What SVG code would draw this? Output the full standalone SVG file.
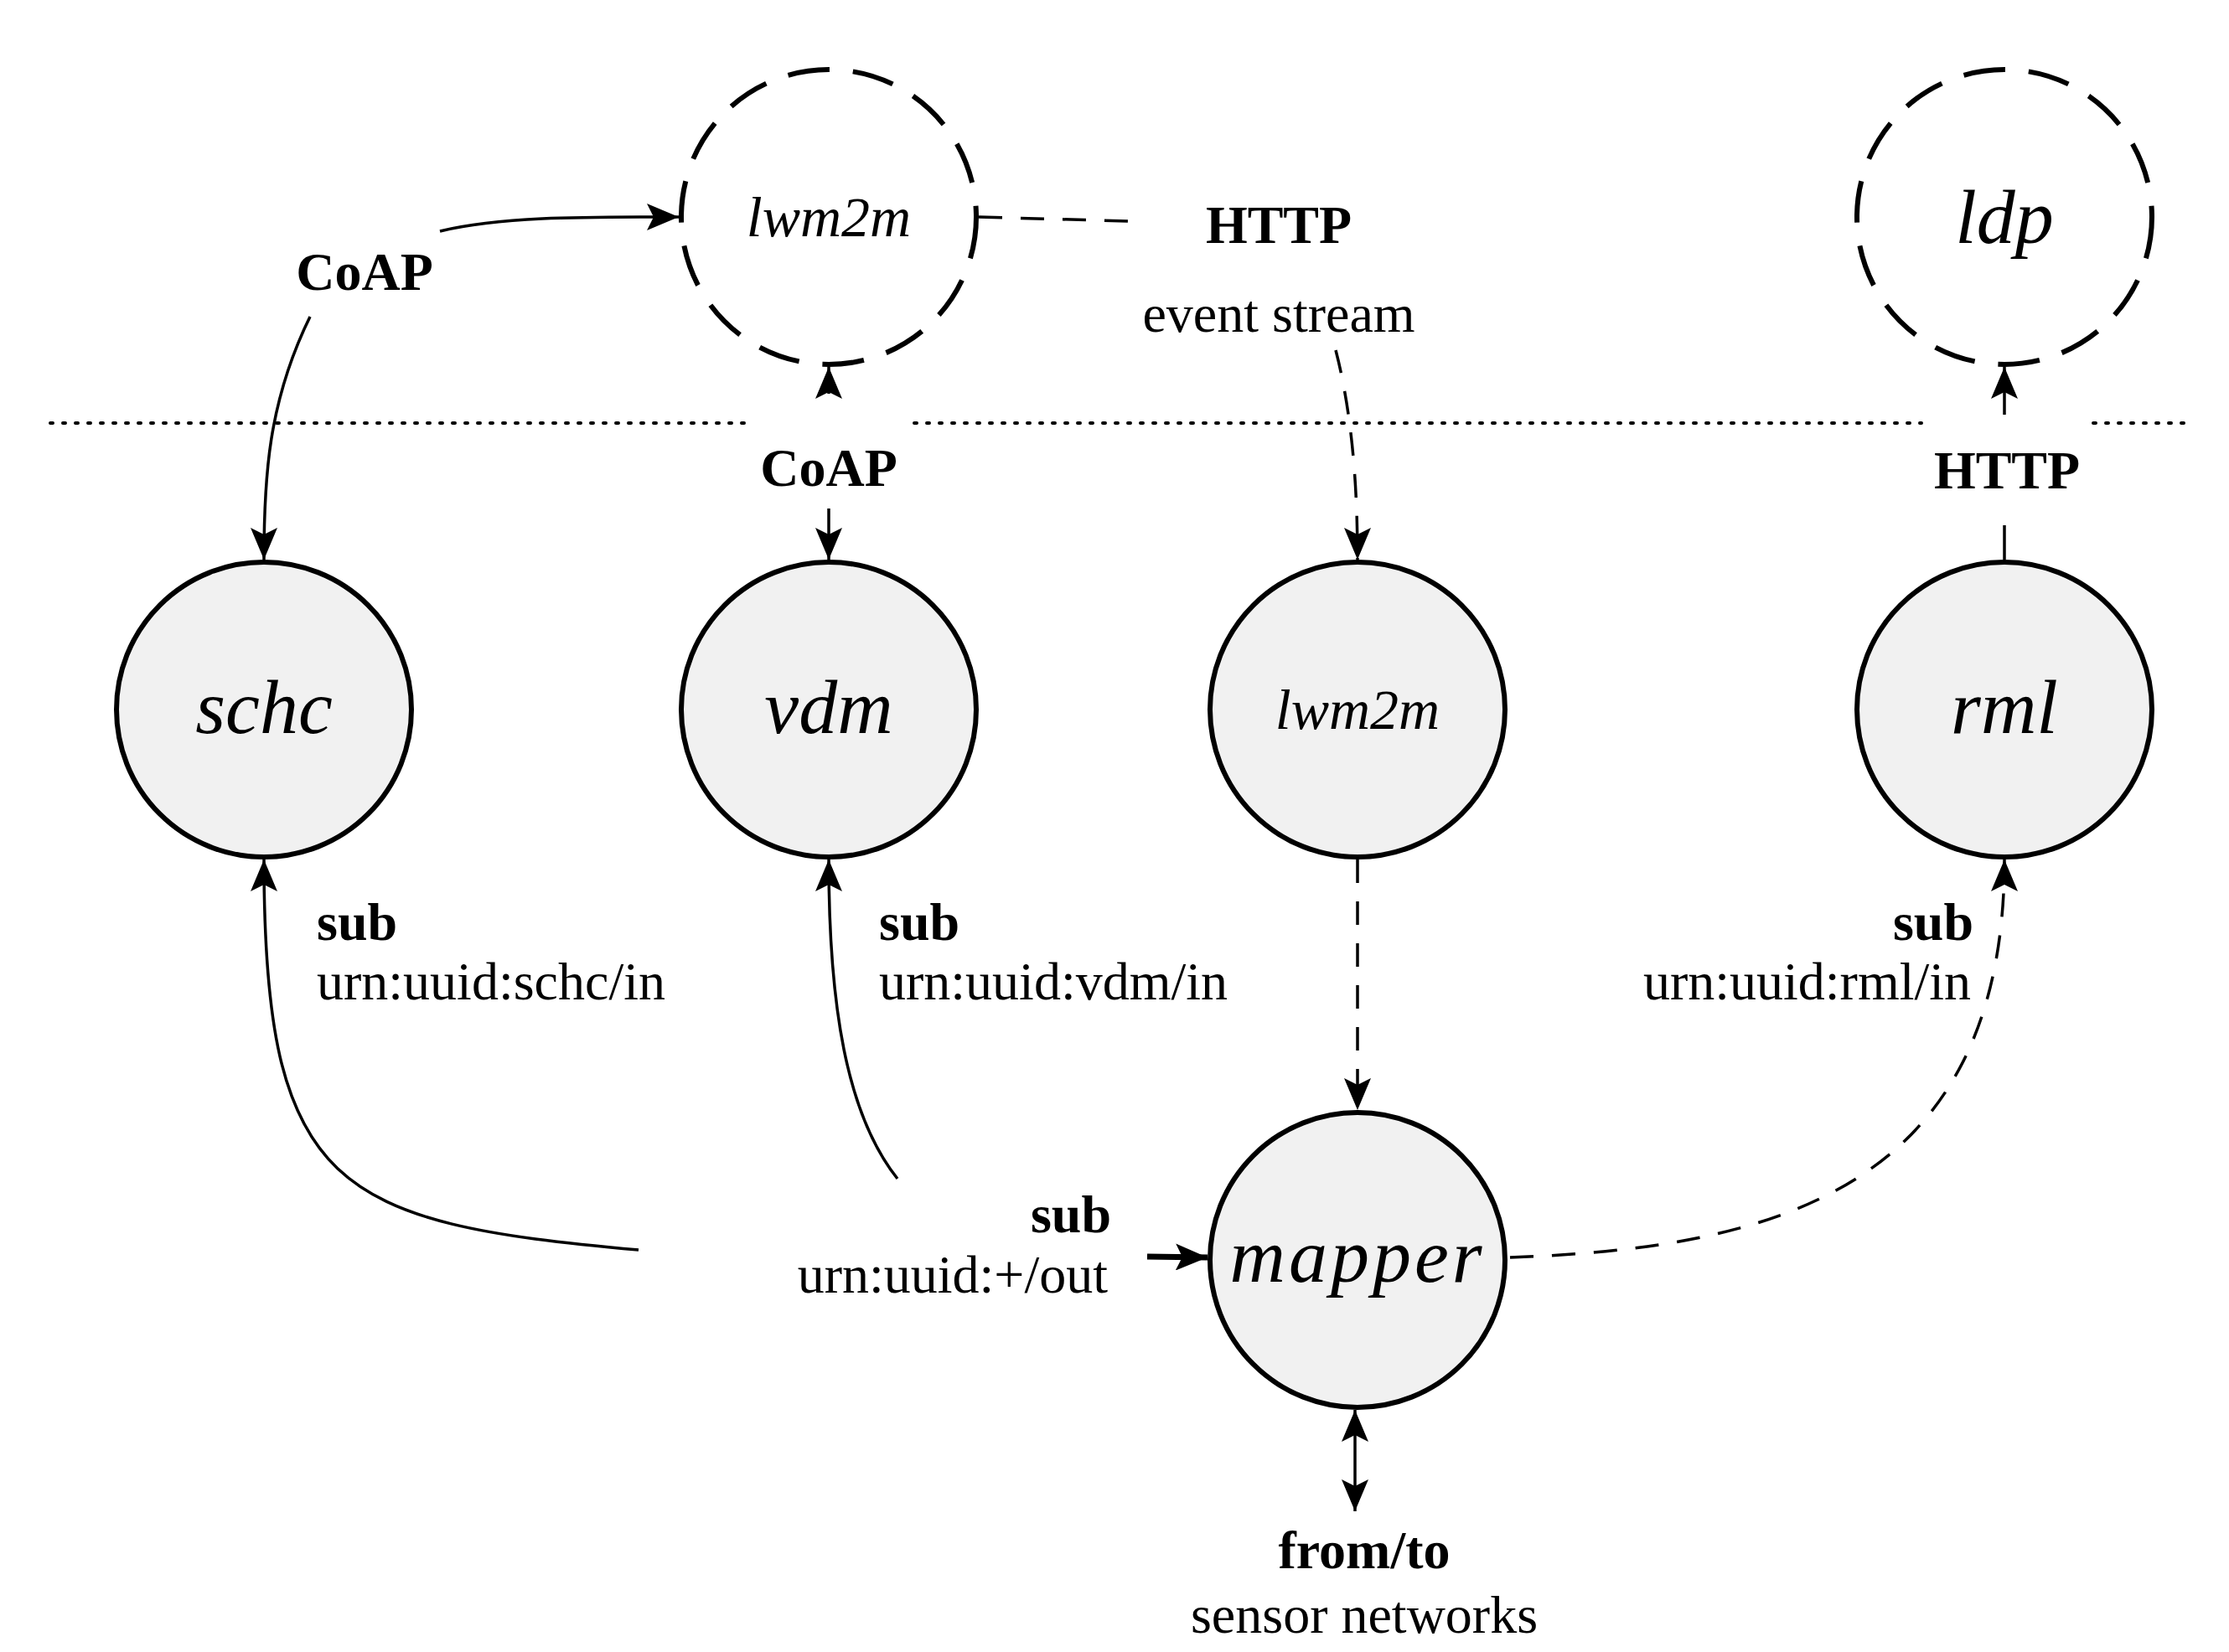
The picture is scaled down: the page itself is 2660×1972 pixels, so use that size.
<svg xmlns="http://www.w3.org/2000/svg" width="2660" height="1972" viewBox="0 0 2660 1972">
<style>
.node{fill:#f1f1f1;stroke:#000;stroke-width:6}
.ext{fill:none;stroke:#000;stroke-width:6;stroke-dasharray:50 28}
.nm{font-family:"Liberation Serif",serif;font-style:italic;font-size:92px;text-anchor:middle}
.sm{font-size:68px}
.lb{font-family:"Liberation Serif",serif;font-size:64px}
.b{font-weight:bold}
.c{stroke:#000;stroke-width:3.5;fill:none}
.d{stroke-dasharray:28 22}
</style>
<defs>
<marker id="a" markerUnits="userSpaceOnUse" markerWidth="40" markerHeight="32" refX="38" refY="16" orient="auto-start-reverse"><path d="M0,0 L38,16 L0,32 L8,16 z" fill="#000"/></marker>
</defs>
<g id="connectors">
<path d="M60,505 H895 M1091,505 H2293 M2498,505 H2609" stroke="#000" stroke-width="4" stroke-dasharray="3 12" stroke-linecap="round" fill="none"/>
<path class="c" d="M525,276 C600,258 700,259 810,259" marker-end="url(#a)"/>
<path class="c" d="M370,378 C320,480 315,570 315,668" marker-end="url(#a)"/>
<path class="c" d="M989,470 L989,438" marker-end="url(#a)"/>
<path class="c" d="M989,607 L989,668" marker-end="url(#a)"/>
<path class="c d" d="M1168,259 L1347,264"/>
<path class="c d" d="M1594,418 C1610,480 1620,560 1620,668" marker-end="url(#a)"/>
<path class="c d" d="M1620,1026 L1620,1325" marker-end="url(#a)"/>
<path class="c d" d="M2392,495 L2392,438" marker-end="url(#a)"/>
<path class="c" d="M2392,627 L2392,668"/>
<path class="c d" d="M1802,1501 C2100,1490 2392,1430 2392,1026" marker-end="url(#a)"/>
<path class="c" d="M762,1492 C400,1460 315,1420 315,1026" marker-end="url(#a)"/>
<path class="c" d="M1071,1407 C1010,1330 989,1200 989,1026" marker-end="url(#a)"/>
<path d="M1369,1500 L1441,1501" stroke="#000" stroke-width="7" fill="none" marker-end="url(#a)"/>
<path class="c" d="M1617,1683 L1617,1804" marker-start="url(#a)" marker-end="url(#a)"/>
</g>
<g id="lwm2m-ext"><circle class="ext" cx="989" cy="259" r="176"/><text class="nm sm" x="989" y="282">lwm2m</text></g>
<g id="ldp"><circle class="ext" cx="2392" cy="259" r="176"/><text class="nm" x="2392" y="290">ldp</text></g>
<g id="schc"><circle class="node" cx="315" cy="847" r="176"/><text class="nm" x="315" y="875">schc</text></g>
<g id="vdm"><circle class="node" cx="989" cy="847" r="176"/><text class="nm" x="989" y="875">vdm</text></g>
<g id="lwm2m"><circle class="node" cx="1620" cy="847" r="176"/><text class="nm sm" x="1620" y="870">lwm2m</text></g>
<g id="rml"><circle class="node" cx="2392" cy="847" r="176"/><text class="nm" x="2392" y="875">rml</text></g>
<g id="mapper"><circle class="node" cx="1620" cy="1504" r="176"/><text class="nm" x="1620" y="1530" font-size="84" letter-spacing="4">mapper</text></g>
<g id="labels" class="lb">
<text class="b" x="435" y="346" text-anchor="middle">CoAP</text>
<text class="b" x="989" y="580" text-anchor="middle">CoAP</text>
<text class="b" x="1526" y="290" text-anchor="middle">HTTP</text>
<text x="1526" y="396" text-anchor="middle">event stream</text>
<text class="b" x="2395" y="583" text-anchor="middle">HTTP</text>
<text class="b" x="378" y="1122">sub</text>
<text x="378" y="1193">urn:uuid:schc/in</text>
<text class="b" x="1049" y="1122">sub</text>
<text x="1049" y="1193">urn:uuid:vdm/in</text>
<text class="b" x="2355" y="1122" text-anchor="end">sub</text>
<text x="2352" y="1193" text-anchor="end">urn:uuid:rml/in</text>
<text class="b" x="1326" y="1471" text-anchor="end">sub</text>
<text x="1322" y="1543" text-anchor="end">urn:uuid:+/out</text>
<text class="b" x="1628" y="1872" text-anchor="middle">from/to</text>
<text x="1628" y="1949" text-anchor="middle">sensor networks</text>
</g>
</svg>
